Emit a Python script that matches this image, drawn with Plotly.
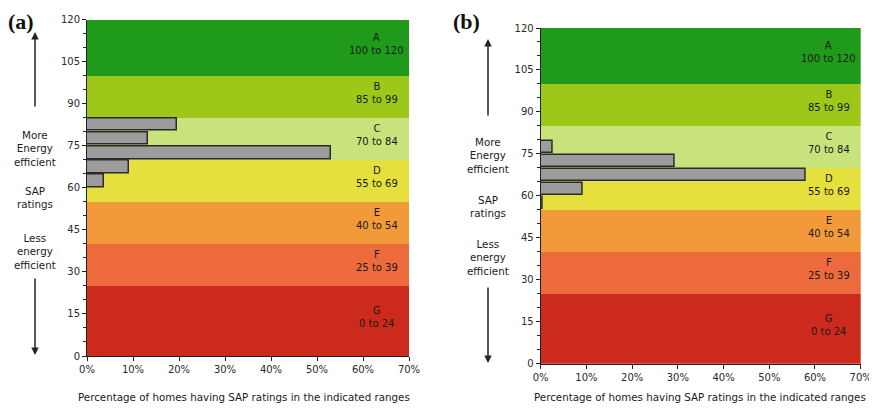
import plotly.graph_objects as go

# ---- data ----
band_names = ["A", "B", "C", "D", "E", "F", "G"]
band_low = [100, 85, 70, 55, 40, 25, 0]
band_high = [120, 100, 85, 70, 55, 40, 25]
band_ranges = ["100 to 120", "85 to 99", "70 to 84", "55 to 69", "40 to 54", "25 to 39", "0 to 24"]
band_colors = ["#1f9a1a", "#9dc81a", "#c8e37c", "#e6e03e", "#f29a3a", "#ec6a3c", "#cc2a1c"]

bins_a = [80, 75, 70, 65, 60]
values_a = [19.6, 13.3, 53.1, 9.2, 3.8]
bins_b = [75, 70, 65, 60, 55]
values_b = [2.6, 29.4, 58.0, 9.2, 0.4]

x_ticks = [0, 10, 20, 30, 40, 50, 60, 70]
x_ticklabels = ["0%", "10%", "20%", "30%", "40%", "50%", "60%", "70%"]
y_ticks = [0, 15, 30, 45, 60, 75, 90, 105, 120]

# page has an 8px body margin: draw the figure 8px smaller and offset coordinates
OFF = 8
W, H = 877 - OFF, 410 - OFF
FONT = "DejaVu Sans, Verdana, sans-serif"


def px(x):
    return (x - OFF) / W


def py(y):
    return 1 - (y - OFF) / H


fig = go.Figure()

panels = [
    dict(xa="x", ya="y", bins=bins_a, vals=values_a,
         dom_x=(px(87), px(409)), dom_y=(py(356), py(19.5))),
    dict(xa="x2", ya="y2", bins=bins_b, vals=values_b,
         dom_x=(px(540.7), px(860.7)), dom_y=(py(363.7), py(28))),
]

for p in panels:
    # coloured rating bands
    for lo, hi, col in zip(band_low, band_high, band_colors):
        fig.add_trace(go.Bar(
            orientation="h", y=[(lo + hi) / 2], x=[70], base=0, width=hi - lo,
            marker=dict(color=col, line=dict(width=0)),
            xaxis=p["xa"], yaxis=p["ya"], showlegend=False, hoverinfo="skip"))
    # histogram bars
    fig.add_trace(go.Bar(
        orientation="h", y=[b + 2.5 for b in p["bins"]], x=p["vals"], base=0, width=4.5,
        marker=dict(color="#9c9c9c", line=dict(color="#2a2a2a", width=1.5)),
        xaxis=p["xa"], yaxis=p["ya"], showlegend=False))
    # band labels
    for name, lo, hi, rng in zip(band_names, band_low, band_high, band_ranges):
        fig.add_annotation(
            x=63, y=(lo + hi) / 2, xref=p["xa"], yref=p["ya"],
            xanchor="center", yanchor="middle",
            text=f"{name}<br>{rng}", showarrow=False, yshift=4,
            font=dict(family=FONT, size=10, color="#1a1a1a"), align="center")

axis_common_x = dict(range=[0, 70], tickvals=x_ticks, ticktext=x_ticklabels, automargin=False,
                     showgrid=False, zeroline=False, showline=True, linecolor="#222",
                     linewidth=1, ticks="outside", ticklen=4, tickcolor="#222",
                     tickfont=dict(family=FONT, size=10, color="#2a2a2a"), fixedrange=True)
axis_common_y = dict(range=[0, 120], tickvals=y_ticks, showgrid=False, zeroline=False,
                     automargin=False,
                     showline=True, linecolor="#222", linewidth=1, ticks="outside",
                     ticklen=4, tickcolor="#222",
                     minor=dict(dtick=5, ticks="outside", ticklen=3, tickcolor="#222"),
                     tickfont=dict(family=FONT, size=10, color="#2a2a2a"), fixedrange=True)

fig.update_layout(
    template="none",
    width=W, height=H, margin=dict(l=0, r=0, t=0, b=0, pad=0),
    paper_bgcolor="white", plot_bgcolor="white", barmode="overlay", bargap=0,
    xaxis=dict(domain=panels[0]["dom_x"], anchor="y", **axis_common_x),
    yaxis=dict(domain=panels[0]["dom_y"], anchor="x", **axis_common_y),
    xaxis2=dict(domain=panels[1]["dom_x"], anchor="y2", **axis_common_x),
    yaxis2=dict(domain=panels[1]["dom_y"], anchor="x2", **axis_common_y),
)

# x-axis titles
for cx, cy in [(244, 397), (700, 397)]:
    fig.add_annotation(x=px(cx), y=py(cy), xref="paper", yref="paper",
                       xanchor="center", yanchor="middle",
                       text="Percentage of homes having SAP ratings in the indicated ranges",
                       showarrow=False, font=dict(family=FONT, size=10.3, color="#1a1a1a"))

# panel labels
for txt, cx, cy in [("(a)", 21, 21), ("(b)", 466, 22)]:
    fig.add_annotation(x=px(cx), y=py(cy), xref="paper", yref="paper", text=f"<b>{txt}</b>",
                       xanchor="center", yanchor="middle",
                       showarrow=False, font=dict(family="Liberation Serif, Times New Roman, serif",
                                                  size=22, color="#111"))

# side labels and arrows
side = [
    dict(x=35, up=(32, 108), more=148, sap=198, less=251, down=(277, 355)),
    dict(x=488, up=(39, 117), more=155, sap=206, less=258, down=(286, 363)),
]
for s in side:
    fx = px(s["x"])
    fig.add_annotation(x=fx, y=py(s["up"][0]), xref="paper", yref="paper", text="",
                       showarrow=True, ax=0, ay=s["up"][1] - s["up"][0], arrowhead=2,
                       arrowsize=1, arrowwidth=1.5, arrowcolor="#222")
    fig.add_annotation(x=fx, y=py(s["down"][1]), xref="paper", yref="paper", text="",
                       showarrow=True, ax=0, ay=-(s["down"][1] - s["down"][0]), arrowhead=2,
                       arrowsize=1, arrowwidth=1.5, arrowcolor="#222")
    for txt, cy in [("More<br>Energy<br>efficient", s["more"]),
                    ("SAP<br>ratings", s["sap"]),
                    ("Less<br>energy<br>efficient", s["less"])]:
        fig.add_annotation(x=fx, y=py(cy), xref="paper", yref="paper", text=txt,
                           xanchor="center", yanchor="middle",
                           showarrow=False, align="center",
                           font=dict(family=FONT, size=10.3, color="#1a1a1a"))

fig.write_html("out.html")
